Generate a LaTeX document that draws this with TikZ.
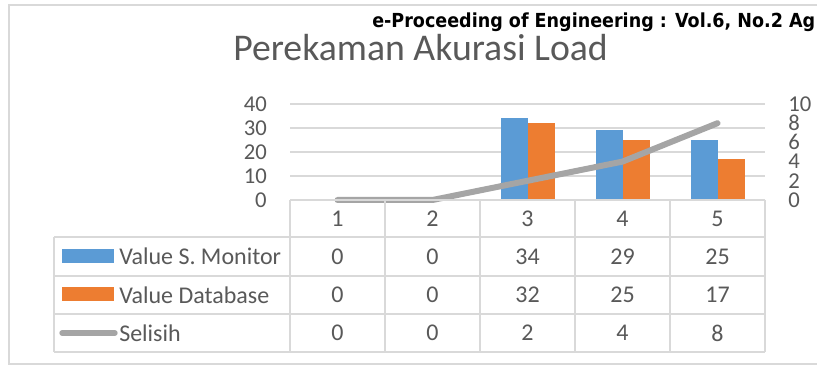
\documentclass[tikz,border=0pt]{standalone}
\usepackage{fontspec}
\usepackage{graphicx}
\setmainfont{Carlito}
\newfontfamily\hdrfont{DejaVu Sans}
\definecolor{txtgray}{HTML}{595959}
\definecolor{gridgray}{HTML}{D9D9D9}
\definecolor{serblue}{HTML}{5B9BD5}
\definecolor{serorange}{HTML}{ED7D31}
\definecolor{sergray}{HTML}{A5A5A5}
\tikzset{
  axislbl/.style={text=txtgray, font=\fontsize{17}{19}\selectfont, inner sep=0pt},
  celltxt/.style={text=txtgray, font=\fontsize{18}{20}\selectfont, inner sep=0pt},
  gridln/.style={draw=gridgray, line width=1.2pt},
  tblln/.style={draw=gridgray, line width=1.5pt},
  barblue/.style={fill=serblue, draw=none},
  barorange/.style={fill=serorange, draw=none},
  diffline/.style={draw=sergray, line width=4.5pt, line cap=round, line join=round},
}
\begin{document}
\begin{tikzpicture}[x=0.75pt,y=-0.75pt]
\useasboundingbox (0,0) rectangle (817,366);
\clip (0,0) rectangle (817,366);
\fill[white] (0,0) rectangle (817,366);
% outer chart frame
\draw[gridgray, line width=1.2pt] (9,5) rectangle (840,364);
% running header
\node[anchor=base west, inner sep=0pt, font=\hdrfont\bfseries\fontsize{14.5}{16}\selectfont] (hdr) at (372,28)
  {\resizebox{332.25pt}{\height}{e-Proceeding of Engineering : Vol.6, No.2 Ag}};
% title
\node[anchor=base west, inner sep=0pt, text=txtgray, font=\fontsize{28.3}{32}\selectfont] (title) at (233,61) {Perekaman Akurasi Load};
% horizontal gridlines
\foreach \v in {10,20,30,40} {
  \draw[gridln] (290,{200-2.4*\v}) -- (765,{200-2.4*\v});
}
% left axis labels
\foreach \v in {0,10,20,30,40} {
  \node[axislbl, anchor=east] (yl\v) at (267,{200-2.4*\v}) {\v};
}
% right axis labels
\foreach \v in {0,2,4,6,8,10} {
  \node[axislbl, anchor=west] (yr\v) at (788,{200-9.6*\v}) {\v};
}
% bars
\foreach \c/\a/\b in {3/34/32, 4/29/25, 5/25/17} {
  \pgfmathsetmacro{\cx}{337.5+95*(\c-1)}
  \fill[barblue] ({\cx-27},200) rectangle (\cx,{200-2.4*\a});
  \fill[barorange] (\cx,200) rectangle ({\cx+27},{200-2.4*\b});
}
% difference line
\coordinate (p1) at (337.5,200);
\coordinate (p2) at (432.5,200);
\coordinate (p3) at (527.5,180.8);
\coordinate (p4) at (622.5,161.6);
\coordinate (p5) at (717.5,123.2);
\draw[diffline] (p1) -- (p2) -- (p3) -- (p4) -- (p5);
% data table
\draw[tblln] (290,200) -- (765,200);
\foreach \y in {237,276,314,352} {
  \draw[tblln] (54,\y) -- (765,\y);
}
\draw[tblln] (54,237) -- (54,352);
\foreach \x in {290,385,480,575,670,765} {
  \draw[tblln] (\x,200) -- (\x,352);
}
% category labels
\foreach \c in {1,...,5} {
  \node[celltxt] (cat\c) at ({337.5+95*(\c-1)},218.5) {\c};
}
% legend keys
\fill[serblue] (62,249) rectangle (114,263);
\fill[serorange] (62,287) rectangle (114,301);
\draw[sergray, line width=4pt, line cap=round] (62,333) -- (115,333);
\node[celltxt, anchor=west] (lg1) at (119,256.5) {Value S. Monitor};
\node[celltxt, anchor=west] (lg2) at (119,295) {Value Database};
\node[celltxt, anchor=west] (lg3) at (119,333) {Selisih};
% table values
\foreach \r/\yy in {1/256.5, 2/295, 3/333} {
  \ifcase\r\or
    \def\vals{0,0,34,29,25}
  \or
    \def\vals{0,0,32,25,17}
  \or
    \def\vals{0,0,2,4,8}
  \fi
  \foreach \v [count=\c] in \vals {
    \node[celltxt] (v\r\c) at ({337.5+95*(\c-1)},\yy) {\v};
  }
}
\end{tikzpicture}
\end{document}
